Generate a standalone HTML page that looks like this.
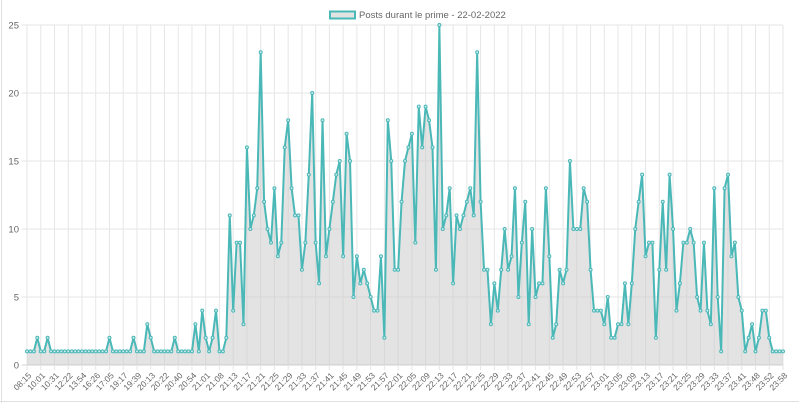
<!DOCTYPE html>
<html><head><meta charset="utf-8"><style>
html,body{margin:0;padding:0;background:#fff;}
svg{display:block;font-family:"Liberation Sans",sans-serif;}
</style></head><body>
<svg id="chart" width="799" height="403">
  <line x1="1.5" y1="0" x2="1.5" y2="403" stroke="#e0e0e0"></line>
  <line x1="0" y1="401.5" x2="799" y2="401.5" stroke="#e0e0e0"></line>
  <g id="legend">
    <rect x="330" y="11.5" width="25" height="7" fill="#e3e3e3" stroke="#4bb8b8" stroke-width="2"></rect>
    <text x="359" y="18" font-size="9.5" fill="#666">Posts durant le prime - 22-02-2022</text>
  </g>
  <g id="grid"></g>
  <g id="area"></g>
  <g id="points"></g>
  <g id="xlabels"></g>
  <g id="ylabels"></g>
</svg>
<script>
const tickLabels = ["08:15","10:01","10:31","12:22","13:54","16:26","17:05","19:17","19:39","20:13","20:22","20:40","20:54","21:01","21:08","21:13","21:17","21:21","21:25","21:29","21:33","21:37","21:41","21:45","21:49","21:53","21:57","22:01","22:05","22:09","22:13","22:17","22:21","22:25","22:29","22:33","22:37","22:41","22:45","22:49","22:53","22:57","23:01","23:05","23:09","23:13","23:17","23:21","23:25","23:29","23:33","23:37","23:41","23:48","23:52","23:58"];
const yTicks = [0,5,10,15,20,25];
const postsA = [1,1,1,2,1,1,2,1,1,1,1,1,1,1,1,1,1,1,1,1,1,1,1,1,2,1,1,1,1,1,1,2,1,1,1,3,2,1,1,1,1,1,1,2,1,1,1,1,1,3,1,4,2,1,2,4,1,1,2,11];
const postsB = [4,9,9,3,16,10,11,13,23,12,10,9,13,8,9,16,18,13,11,11,7,9,14,20,9,6,18,8,10,12,14,15,8,17,15,5,8,6,7,6,5,4,4,8,2,18,15,7,7,12,15,16,17,9,19,16,19,18,16,7];
const postsC = [25,10,11,13,6,11,10,11,12,13,11,23,12,7,7,3,6,4,7,10,7,8,13,5,9,12,3,10,5,6,6,13,8,2,3,7,6,7,15,10,10,10,13,12,7,4,4,4,3,5,2,2,3,3,6,3,6,10,12,14];
const postsD = [8,9,9,2,7,12,7,14,10,4,6,9,9,10,9,5,4,9,4,3,13,5,1,13,14,8,9,5,4,1,2,3,1,2,4,4,2,1,1,1,1];
const values = postsA.concat(postsB, postsC, postsD);

const NS = "http://www.w3.org/2000/svg";
const X0 = 27, X1 = 783, Y0 = 365, Y1 = 25, YMAX = 25;
const n = values.length;
function xs(i){ return X0 + (X1 - X0) * i / (n - 1); }
function ys(v){ return Y0 - (Y0 - Y1) * v / YMAX; }
function mk(tag, attrs){ const e = document.createElementNS(NS, tag); for (const k in attrs) e.setAttribute(k, attrs[k]); return e; }

const grid = document.getElementById('grid');
yTicks.forEach(t => {
  const l = mk('line', {x1: X0 - 5, x2: X1, y1: ys(t), y2: ys(t), stroke: t === 0 ? '#cfcfcf' : '#e6e6e6', 'stroke-width': 1});
  
  
  grid.appendChild(l);
  const tx = mk('text', {x: X0 - 8, y: ys(t) + 3.5, 'font-size': 9.5, fill: '#666', 'text-anchor': 'end'});
  tx.textContent = t;
  
  
  document.getElementById('ylabels').appendChild(tx);
});
const step = (n - 1) / (tickLabels.length - 1);
tickLabels.forEach((lab, k) => {
  const x = xs(k * step);
  const l = mk('line', {x1: x, x2: x, y1: Y1, y2: Y0 + 5, stroke: '#e6e6e6', 'stroke-width': 1});
  
  
  grid.appendChild(l);
  const tx = mk('text', {x: 0, y: 0, 'font-size': 8.5, fill: '#666', 'text-anchor': 'end', transform: `translate(${x + 5},${Y0 + 11}) rotate(-45)`});
  tx.textContent = lab;
  
  
  document.getElementById('xlabels').appendChild(tx);
});

let d = '';
values.forEach((v, i) => { d += (i ? 'L' : 'M') + xs(i).toFixed(2) + ' ' + ys(v).toFixed(2); });
const area = mk('path', {d: d + `L${xs(n-1)} ${Y0}L${xs(0)} ${Y0}Z`, fill: 'rgba(200,200,200,0.5)', stroke: 'none'});


document.getElementById('area').appendChild(area);
const line = mk('path', {d: d, fill: 'none', stroke: '#4bb8b8', 'stroke-width': 2, 'stroke-linejoin': 'round'});


document.getElementById('area').appendChild(line);
values.forEach((v, i) => {
  const c = mk('circle', {cx: xs(i), cy: ys(v), r: 1.5, fill: '#cfe9e9', stroke: '#4bb8b8', 'stroke-width': 1});
  
  
  document.getElementById('points').appendChild(c);
});
</script>
</body></html>
